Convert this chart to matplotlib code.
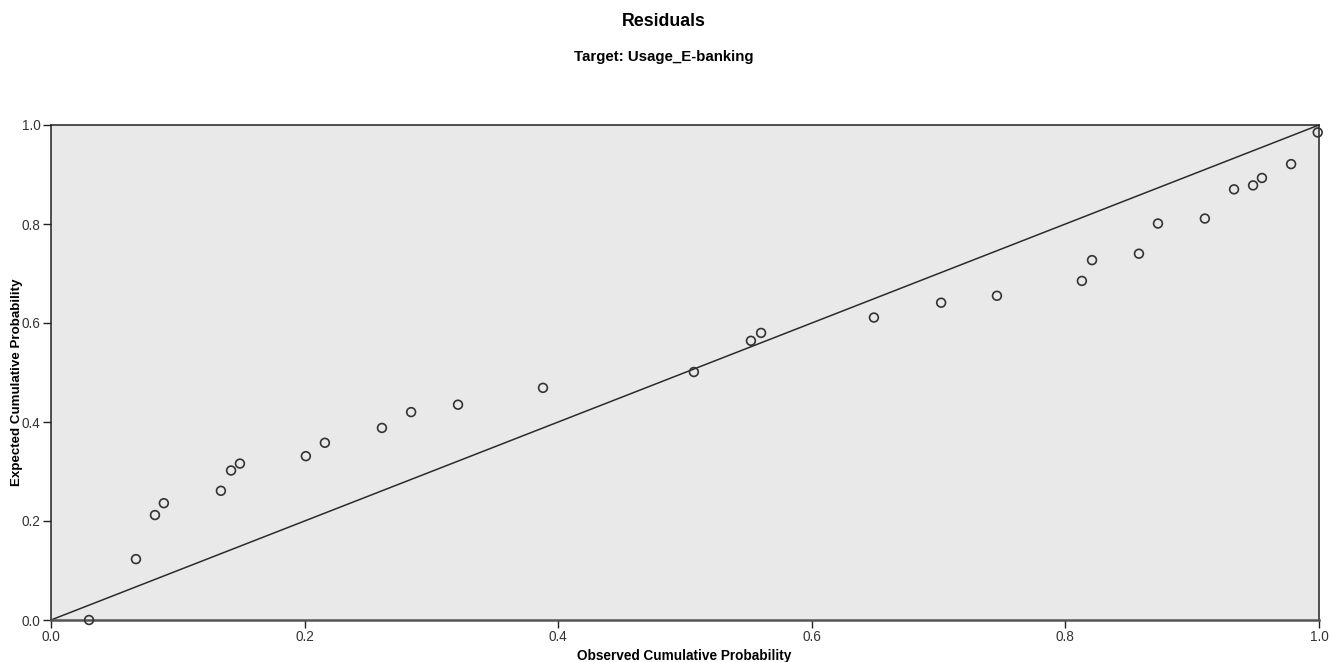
import matplotlib
matplotlib.use("Agg")
import matplotlib.pyplot as plt
from matplotlib import font_manager

observed = [0.030, 0.067, 0.082, 0.089, 0.134, 0.142, 0.149, 0.201, 0.216, 0.261,
            0.284, 0.321, 0.388, 0.507, 0.552, 0.560, 0.649, 0.702, 0.746, 0.813,
            0.821, 0.858, 0.873, 0.910, 0.933, 0.948, 0.955, 0.978, 0.999]
expected = [0.000, 0.123, 0.212, 0.236, 0.261, 0.302, 0.316, 0.331, 0.358, 0.388,
            0.420, 0.435, 0.469, 0.501, 0.564, 0.580, 0.611, 0.641, 0.655, 0.685,
            0.727, 0.740, 0.801, 0.811, 0.870, 0.878, 0.893, 0.921, 0.985]
ref_line = [0.0, 1.0]
ticks = [0.0, 0.2, 0.4, 0.6, 0.8, 1.0]
tick_labels = ["0.0", "0.2", "0.4", "0.6", "0.8", "1.0"]

title = "Residuals"
subtitle = "Target: Usage_E-banking"
xlabel = "Observed Cumulative Probability"
ylabel = "Expected Cumulative Probability"

names = {f.name for f in font_manager.fontManager.ttflist}
narrow = "Liberation Sans Narrow" if "Liberation Sans Narrow" in names else "Liberation Sans"
plt.rcParams['font.family'] = ['Liberation Sans', 'DejaVu Sans']

W, H = 1330, 662
fig = plt.figure(figsize=(W / 100, H / 100), dpi=100)
ax = fig.add_axes([51 / W, 1 - 620 / H, (1319 - 51) / W, (620 - 125) / H])
ax.set_facecolor("#e9e9e9")

ax.plot(ref_line, ref_line, color="#2b2b2b", lw=1.1, zorder=2)
ax.scatter(observed, expected, s=40, facecolors="none", edgecolors="#333333",
           linewidths=1.2, zorder=3, clip_on=False)

ax.set_xlim(0, 1)
ax.set_ylim(0, 1)
ax.set_xticks(ticks)
ax.set_xticklabels(tick_labels)
ax.set_yticks(ticks)
ax.set_yticklabels(tick_labels)
ax.tick_params(direction="out", length=6, width=1, color="#222222",
               labelsize=9.8, labelcolor="#333333", pad=1.5)

for side in ["top", "right", "left"]:
    ax.spines[side].set_color("#222222")
    ax.spines[side].set_linewidth(1.1)
ax.spines["bottom"].set_color("#555555")
ax.spines["bottom"].set_linewidth(1.8)

fig.text(684 / W, 1 - 656 / H, xlabel, ha="center", va="center",
         fontsize=9.8, fontweight="bold", family=narrow)
fig.text(17 / W, 1 - 382 / H, ylabel, ha="center", va="center", rotation=90,
         fontsize=9.6, fontweight="bold", family=narrow)

fig.text(663.5 / W, 1 - 22 / H, title, ha="center", va="center",
         fontsize=12.8, fontweight="bold")
fig.text(663.5 / W, 1 - 57.5 / H, subtitle, ha="center", va="center",
         fontsize=10.8, fontweight="bold", family=narrow)

fig.savefig("out.png", dpi=100, facecolor="white")
